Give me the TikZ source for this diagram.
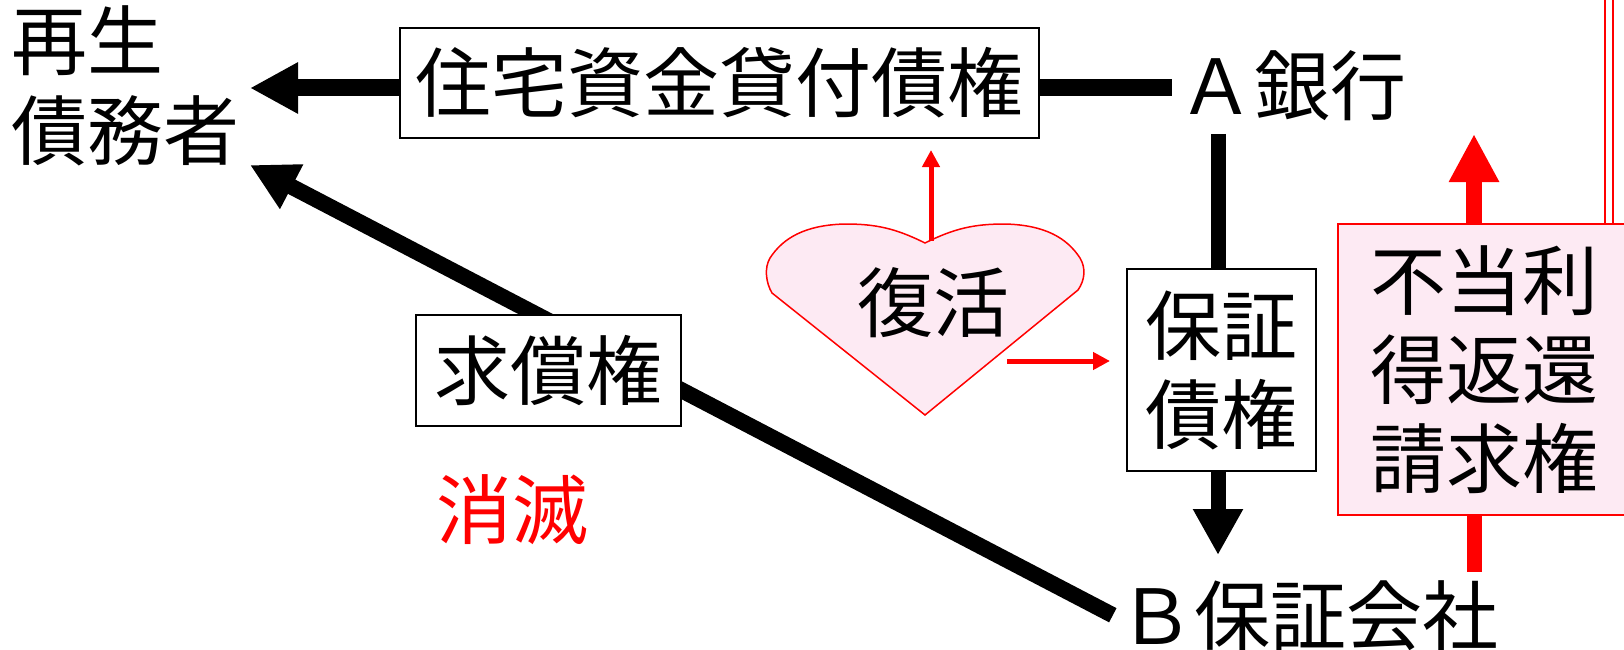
\documentclass[tikz,border=0pt]{standalone}
\usepackage{fontspec}
\setmainfont{Noto Sans CJK JP}
\usetikzlibrary{arrows.meta}
\definecolor{pinkfill}{RGB}{253,234,243}
\definecolor{pred}{RGB}{255,0,0}
\tikzset{
  txt/.style={font=\fontsize{76pt}{89pt}\selectfont, inner sep=0pt},
  blackbox/.style={txt, draw=black, line width=2pt, fill=white},
  pinkbox/.style={txt, draw=pred, line width=2pt, fill=pinkfill},
  fatarrow/.style={line width=#1, -{Triangle[length=48pt,width=48pt]}},
  thinred/.style={pred, line width=5pt, -{Triangle[length=17pt,width=17pt]}}
}
\begin{document}
\begin{tikzpicture}[x=1pt,y=-1pt]
\useasboundingbox (0,0) rectangle (1624,650);
% free-end coordinates
\coordinate (dtip) at (250,88);
\coordinate (dtip2) at (250,165);
\coordinate (atop) at (1218,134);
\coordinate (btip) at (1218,555);
\coordinate (rx) at (1474,134);
\coordinate (rbot) at (1474,572);
\coordinate (dbltop) at (1608.5,-5);
\coordinate (dblbot) at (1608.5,224);
\coordinate (hn) at (931,241);
\coordinate (hup) at (931,150);
\coordinate (hr) at (1007,361);

% texts and boxes
\node[txt, anchor=base west] (deb1) at (11,69.5) {再生};
\node[txt, anchor=base west] (deb2) at (11,159) {債務者};
\node[blackbox, minimum width=639pt, minimum height=110pt] (loan) at (719.5,83) {住宅資金貸付債権};
\node[txt, anchor=base] (bankA) at (1292,115) {Ａ銀行};
\node[blackbox, minimum width=189pt, minimum height=202pt, align=center] (guar) at (1221.5,370) {保証\\債権};
\node[txt, anchor=base] (compB) at (1308,644) {Ｂ保証会社};

% double red line
\draw[pred, line width=2pt, double=white, double distance=6pt] (dbltop) -- (dblbot);
\node[pinkbox, minimum width=292pt, minimum height=291pt, align=center] (unjust) at (1484,369.5) {不当利\\得返還\\請求権};

% black connectors
\draw[fatarrow=17pt] (loan.west |- dtip) -- (dtip);
\draw[line width=17pt] (loan.east |- dtip) -- ([xshift=-6pt]bankA.west |- dtip);
\draw[line width=15pt] (atop) -- (atop |- guar.north);
\draw[line width=15pt, -{Triangle[length=46pt,width=47pt]}] (guar.south -| btip) -- (btip);
\draw[line width=16pt, -{Triangle[length=47pt,width=47pt]}] ([xshift=-5pt]compB.west) -- (dtip2);

\node[blackbox, minimum width=265pt, minimum height=111pt] (kyu) at (548.5,370.5) {求償権};
\node[txt, text=pred] (shometsu) at (512,509.5) {消滅};

% red connectors of the unjust-enrichment box
\draw[pred, line width=15.5pt, -{Triangle[length=48pt,width=47pt]}] (unjust.north -| rx) -- (rx);
\draw[pred, line width=15pt] (unjust.south -| rbot) -- (rbot);

% heart
\draw[pred, line width=1.5pt, fill=pinkfill]
  (925,243)
  .. controls (895,228) and (875,224) .. (845,224)
  .. controls (805,225) and (783,238) .. (770,258)
  .. controls (764,268) and (766,283) .. (772,293)
  -- (925,415) -- (1078,290)
  .. controls (1085,280) and (1086,268) .. (1080,258)
  .. controls (1067,238) and (1045,225) .. (1005,224)
  .. controls (975,224) and (955,228) .. (925,243) -- cycle;
\node[txt] (revive) at (933,303) {復活};
\draw[thinred] (hn) -- (hup);
\draw[thinred] (hr) -- ([xshift=-16pt]guar.west |- hr);
\end{tikzpicture}
\end{document}
